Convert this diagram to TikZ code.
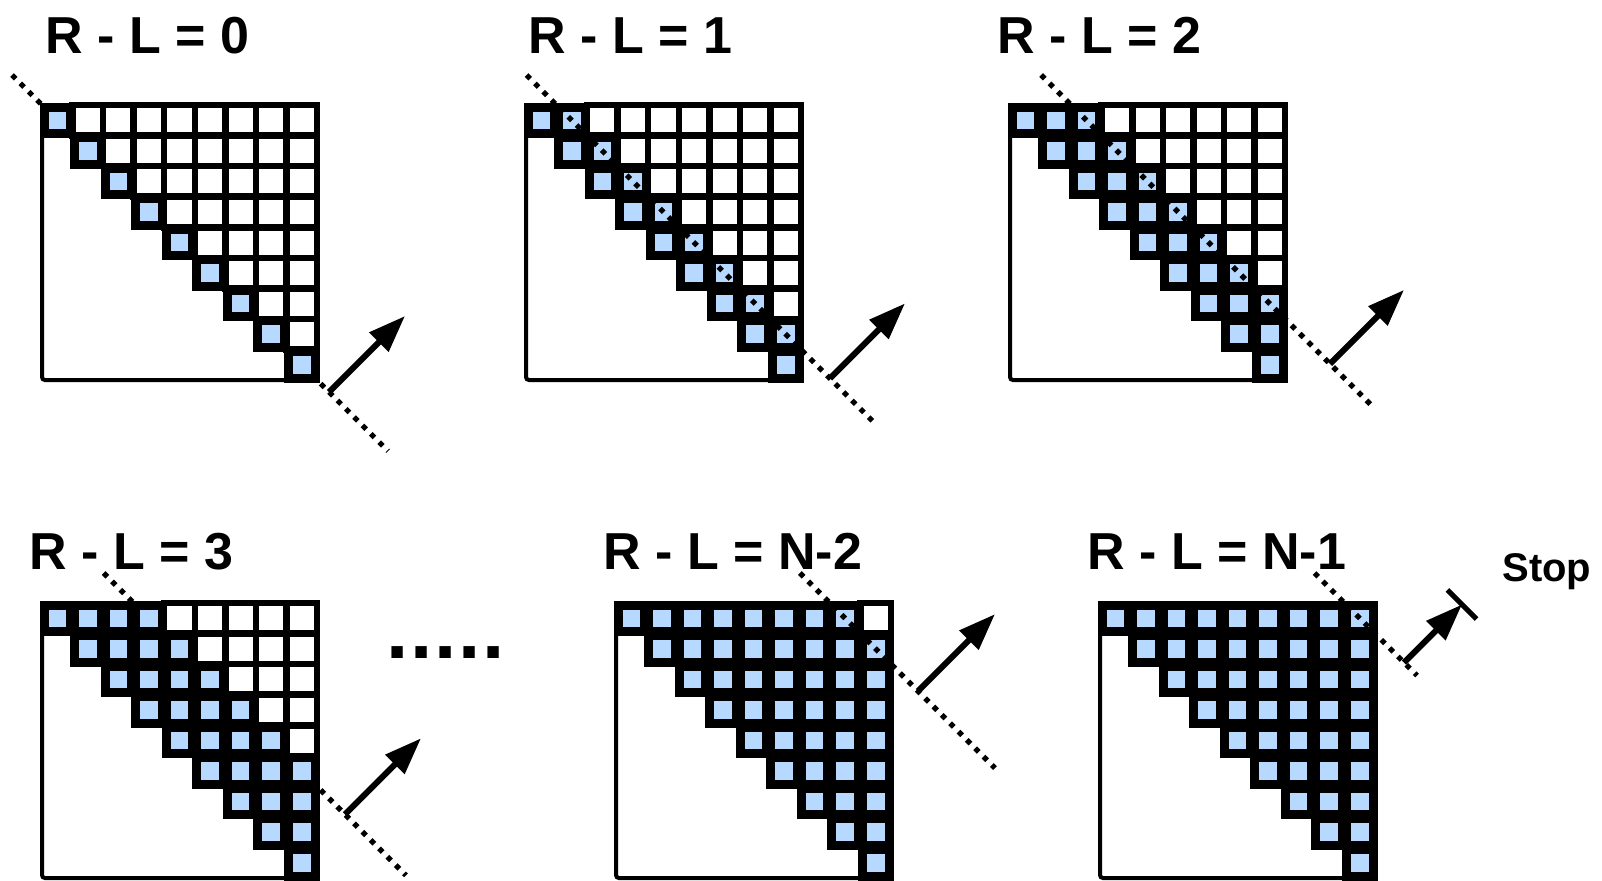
\documentclass[tikz,border=0pt]{standalone}
\usepackage{fontspec}
\setmainfont{Liberation Sans}
\usetikzlibrary{arrows.meta}
\definecolor{cellblue}{RGB}{184,217,255}
\newcommand\cellsz{30.56}
\tikzset{
  whitecell/.style={draw=black, fill=white, line width=3.25pt},
  bluecell/.style={draw=black, fill=cellblue, line width=4.5pt},
  outerbox/.style={draw=black, line width=2pt, rounded corners=1.5pt},
  diagline/.style={draw=black, line width=2.6pt, dash pattern=on 2.6pt off 3.3pt},
  movearrow/.style={draw=black, line width=3pt, -{Triangle[length=18.5pt,width=13pt]}},
  stopbar/.style={draw=black, line width=2.5pt},
  titletext/.style={font=\bfseries\fontsize{26pt}{30pt}\selectfont, anchor=base west, inner sep=0pt},
}
% #1 name, #2 x, #3 y, #4 k, #5 dotted line on top (1) or below (0), #6 extension of the dotted line
\newcommand\drawpanel[6]{%
  \coordinate (#1-tl) at (#2,#3);
  \coordinate (#1-dstart) at ({#2+#4*\cellsz-30},{#3-30});
  \coordinate (#1-dend) at ({#2+9*\cellsz+#6},{#3+(9-#4)*\cellsz+#6});
  \ifnum#5=0 \draw[diagline] (#1-dstart) -- (#1-dend);\fi
  \draw[outerbox] (#1-tl) rectangle ++({9*\cellsz},{9*\cellsz});
  \foreach \i in {0,...,8}{
    \foreach \j in {\i,...,8}{
      \pgfmathtruncatemacro\dd{\j-\i}
      \ifnum\dd>#4
        \draw[whitecell] ({#2+\j*\cellsz},{#3+\i*\cellsz}) rectangle ++({\cellsz},{\cellsz});
      \fi
    }
  }
  \foreach \i in {0,...,8}{
    \foreach \j in {\i,...,8}{
      \pgfmathtruncatemacro\dd{\j-\i}
      \ifnum\dd>#4\else
        \draw[bluecell] ({#2+\j*\cellsz+2},{#3+\i*\cellsz+2}) rectangle ++({\cellsz-4},{\cellsz-4});
      \fi
    }
  }
  \ifnum#5=1 \draw[diagline] (#1-dstart) -- (#1-dend);\fi
}
\begin{document}
\begin{tikzpicture}[x=0.5pt,y=-0.5pt]
\useasboundingbox (0,0) rectangle (1602,880);

% titles
\node[titletext] (t0) at (45,53) {R - L = 0};
\node[titletext] (t1) at (528,53) {R - L = 1};
\node[titletext] (t2) at (997,53) {R - L = 2};
\node[titletext] (t3) at (29,569) {R - L = 3};
\node[titletext] (t4) at (603,569) {R - L = N-2};
\node[titletext] (t5) at (1087,569) {R - L = N-1};
\node[font=\bfseries\fontsize{20pt}{24pt}\selectfont, anchor=base west, inner sep=0pt] (stop) at (1502,581) {Stop};
\node[font=\bfseries\fontsize{40pt}{48pt}\selectfont, anchor=base west, inner sep=0pt] (dots) at (386,658) {.\hspace{0.9pt}.\hspace{0.9pt}.\hspace{0.9pt}.\hspace{0.9pt}.};

% panels
\drawpanel{m0}{42}{105}{0}{0}{71}
\drawpanel{m1}{526}{105}{1}{1}{72}
\drawpanel{m2}{1010}{105}{2}{1}{88}
\drawpanel{m3}{42}{603}{3}{0}{89}
\drawpanel{m4}{616}{603}{7}{1}{104}
\drawpanel{m5}{1100}{603}{8}{1}{42}

% arrows
\coordinate (m0-tail) at (329,392);   \coordinate (m0-tip) at (405,316);
\coordinate (m1-tail) at (830,378.4); \coordinate (m1-tip) at (905,303.4);
\coordinate (m2-tail) at (1330,363.9);\coordinate (m2-tip) at (1404,289.9);
\coordinate (m3-tail) at (345,814.3); \coordinate (m3-tip) at (421,738.3);
\coordinate (m4-tail) at (918,691.1); \coordinate (m4-tip) at (995,614.1);
\coordinate (m5-tail) at (1404,662.5);\coordinate (m5-tip) at (1462,604.5);
\coordinate (bar-a) at (1447.4,589.9); \coordinate (bar-b) at (1476.6,619.1);
\foreach \m in {m0,m1,m2,m3,m4,m5}{
  \draw[movearrow] (\m-tail) -- (\m-tip);
}
\draw[stopbar] (bar-a) -- (bar-b);
\end{tikzpicture}
\end{document}
